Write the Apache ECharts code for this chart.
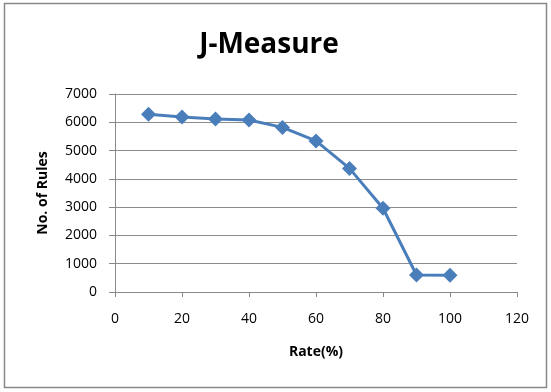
<!DOCTYPE html>
<html><head><meta charset="utf-8">
<script src="https://cdn.jsdelivr.net/npm/echarts@6/dist/echarts.min.js"></script>
<style>html,body{margin:0;padding:0;background:#fff}#c{width:551px;height:392px}</style>
</head><body><div id="c"></div>
<script>
const rates = [10, 20, 30, 40, 50, 60, 70, 80, 90, 100];
const rules = [6280, 6190, 6120, 6080, 5820, 5340, 4370, 2960, 600, 590];
const xTicks = [0, 20, 40, 60, 80, 100, 120];
const yTicks = [0, 1000, 2000, 3000, 4000, 5000, 6000, 7000];

const chart = echarts.init(document.getElementById('c'));
chart.setOption({
  animation: false,
  backgroundColor: '#fff',
  graphic: [{type:'rect', shape:{x:4.5,y:3.5,width:542,height:384}, style:{fill:'none', stroke:'#888', lineWidth:1.5}}],
  title: {text: 'J-Measure', left: 264, top: 26, textAlign: 'center',
    textStyle: {fontFamily: 'Open Sans', fontWeight: 'bold', fontSize: 28, color: '#000'}},
  grid: {left: 115, right: 34, top: 94, bottom: 100},
  xAxis: {type: 'value', min: xTicks[0], max: xTicks[xTicks.length-1], interval: 20,
    name: 'Rate(%)', nameLocation: 'middle', nameGap: 53,
    nameTextStyle: {fontFamily: 'Open Sans', fontWeight: 'bold', fontSize: 14, color: '#000'},
    axisLine: {lineStyle: {color: '#888'}},
    axisTick: {show: true, length: 5, lineStyle: {color: '#888'}},
    axisLabel: {fontFamily: 'Open Sans', fontSize: 14, color: '#000', margin: 20},
    splitLine: {show: false}},
  yAxis: {type: 'value', min: yTicks[0], max: yTicks[yTicks.length-1], interval: 1000,
    name: 'No. of Rules', nameLocation: 'middle', nameGap: 65,
    nameTextStyle: {fontFamily: 'Open Sans', fontWeight: 'bold', fontSize: 14, color: '#000'},
    axisLine: {show: true, lineStyle: {color: '#888'}},
    axisTick: {show: true, length: 6, lineStyle: {color: '#888'}},
    axisLabel: {fontFamily: 'Open Sans', fontSize: 14, color: '#000', margin: 18, formatter: v => String(v)},
    splitLine: {show: true, lineStyle: {color: '#8c8c8c', width: 1}}},
  series: [{type: 'line', data: rates.map((r,i)=>[r, rules[i]]),
    symbol: 'diamond', symbolSize: 15,
    lineStyle: {color: '#4a7ebb', width: 3},
    itemStyle: {color: '#4a7ebb'}}]
});
</script></body></html>
